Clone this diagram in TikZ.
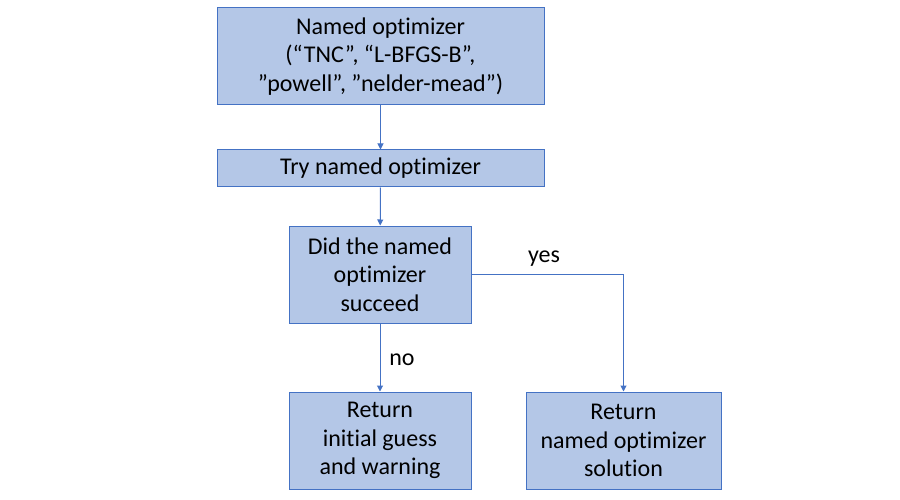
\documentclass[tikz,border=0pt]{standalone}
\usepackage{fontspec}
\setmainfont{Carlito}[Ligatures=NoCommon]
\usetikzlibrary{arrows.meta}
\definecolor{boxfill}{HTML}{B4C7E7}
\definecolor{boxline}{HTML}{4472C4}
\begin{document}
\begin{tikzpicture}[x=1pt,y=-1pt,
  box/.style={draw=boxline,fill=boxfill,line width=1pt,align=center,inner sep=0pt,
    font=\fontsize{24}{28.7}\selectfont,text=black},
  conn/.style={draw=boxline,line width=1pt,-{Triangle[width=6pt,length=6pt]}},
  lbl/.style={font=\fontsize{24}{28.7}\selectfont,text=black}]
\useasboundingbox (0,0) rectangle (900,500);
\node[box,minimum width=327pt,minimum height=97pt] (b1) at (380.5,56.5)
  {Named optimizer\\(“TNC”, “L-BFGS-B”,\\”powell”, ”nelder-mead”)};
\node[box,minimum width=327pt,minimum height=37pt] (b2) at (380.5,168.5) {Try named optimizer};
\node[box,minimum width=182pt,minimum height=97pt] (b3) at (380,274.5)
  {Did the named\\optimizer\\succeed};
\node[box,minimum width=182pt,minimum height=97pt] (b4) at (380,440.5)
  {Return\\initial guess\\and warning};
\node[box,minimum width=195pt,minimum height=97pt] (b5) at (623.5,440.5)
  {Return\\named optimizer\\solution};
\coordinate (corner) at (623.5,274.5);
\draw[conn] (b1) -- (b2);
\draw[conn] (b2) -- (b3);
\draw[conn] (b3) -- (b4);
\draw[conn] (b3.east) -- (corner) -- (b5.north);
\node[lbl] (yes) at (544,259) {yes};
\node[lbl] (no) at (402,360) {no};
\end{tikzpicture}
\end{document}
